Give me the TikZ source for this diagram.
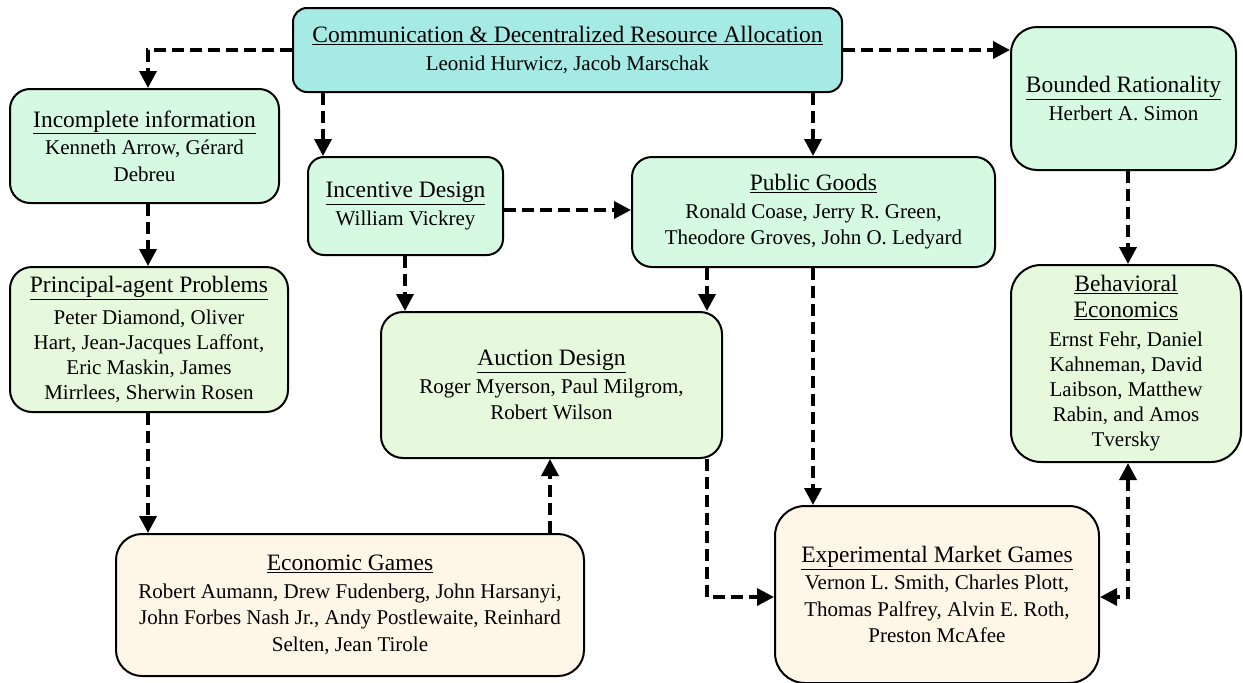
\documentclass[tikz,border=0pt]{standalone}
\usepackage{fontspec}
\setmainfont{Liberation Serif}
\usetikzlibrary{arrows.meta,calc}
\definecolor{cyanfill}{HTML}{A6EAE6}
\definecolor{mint}{HTML}{D5F9E1}
\definecolor{lgreen}{HTML}{E7F9DC}
\definecolor{cream}{HTML}{FEF7E8}
\newcommand{\ttlfont}{\fontsize{23.5}{28}\selectfont}
\newcommand{\ttl}[1]{{\ttlfont\underline{#1}}\\[1pt]}
\tikzset{
  box/.style={draw=black, line width=2pt, align=center, inner sep=0pt,
    font=\fontsize{21}{26.5}\selectfont},
  tight/.style={font=\fontsize{21}{25}\selectfont},
  arr/.style={-{Triangle[length=17pt,width=17pt]}, line width=3.6pt, dash pattern=on 12pt off 6pt},
  arr2/.style={{Triangle[length=17pt,width=17pt]}-{Triangle[length=17pt,width=17pt]}, line width=3.6pt, dash pattern=on 12pt off 6pt}
}
\begin{document}
\begin{tikzpicture}[x=1pt,y=-1pt]
\useasboundingbox (0,0) rectangle (1243,683);
\node[box, fill=cyanfill, rounded corners=14pt, minimum width=549pt, minimum height=84pt] (top) at (567.5,50)
  {\ttl{Communication \& Decentralized Resource Allocation}Leonid Hurwicz, Jacob Marschak};
\node[box, fill=mint, rounded corners=20pt, minimum width=269pt, minimum height=114pt] (inc) at (144.5,146)
  {\ttl{Incomplete information}Kenneth Arrow, Gérard\\Debreu};
\node[box, fill=mint, rounded corners=16pt, minimum width=195pt, minimum height=98pt] (incent) at (405.5,206)
  {\ttl{Incentive Design}William Vickrey};
\node[box, fill=mint, rounded corners=20pt, minimum width=363pt, minimum height=110pt] (pub) at (813.5,212)
  {\ttl{Public Goods}Ronald Coase, Jerry R. Green,\\Theodore Groves, John O. Ledyard};
\node[box, fill=mint, rounded corners=26pt, minimum width=225pt, minimum height=143pt] (bound) at (1123.5,98.5)
  {\ttl{Bounded Rationality}Herbert A. Simon};
\node[box, tight, fill=lgreen, rounded corners=22pt, minimum width=278pt, minimum height=145pt] (pa) at (149,339.5)
  {{\ttlfont\underline{Principal-agent Problems}}\\[7pt]Peter Diamond, Oliver\\Hart, Jean-Jacques Laffont,\\Eric Maskin, James\\Mirrlees, Sherwin Rosen};
\node[box, fill=lgreen, rounded corners=22pt, minimum width=341pt, minimum height=146pt] (auct) at (551.5,385)
  {\ttl{Auction Design}Roger Myerson, Paul Milgrom,\\Robert Wilson};
\node[box, tight, fill=lgreen, rounded corners=30pt, minimum width=230pt, minimum height=197pt] (behav) at (1126,363.5)
  {\ttl{Behavioral}{\ttlfont\underline{Economics}}\\[4pt]Ernst Fehr, Daniel\\Kahneman, David\\Laibson, Matthew\\Rabin, and Amos\\Tversky};
\node[box, fill=cream, rounded corners=26pt, minimum width=468pt, minimum height=142pt] (eg) at (350,605)
  {\ttl{Economic Games}Robert Aumann, Drew Fudenberg, John Harsanyi,\\John Forbes Nash Jr., Andy Postlewaite, Reinhard\\Selten, Jean Tirole};
\node[box, fill=cream, rounded corners=30pt, minimum width=324pt, minimum height=177pt] (exp) at (937,594.5)
  {\ttl{Experimental Market Games}Vernon L. Smith, Charles Plott,\\Thomas Palfrey, Alvin E. Roth,\\Preston McAfee};
% column / row guides
\coordinate (c1) at (148,0);
\coordinate (c2) at (323,0);
\coordinate (c3) at (813,0);
\coordinate (c4) at (405,0);
\coordinate (c5) at (707,0);
\coordinate (c6) at (550,0);
\coordinate (c7) at (1128,0);
\coordinate (r1) at (0,210);
\coordinate (r2) at (0,597);
% connectors
\draw[arr] (top.west) -| (inc.north -| c1);
\draw[arr] (top.east) -- (top.east -| bound.west);
\draw[arr] (top.south -| c2) -- (incent.north -| c2);
\draw[arr] (top.south -| c3) -- (pub.north -| c3);
\draw[arr] (inc.south -| c1) -- (pa.north -| c1);
\draw[arr] (incent.east |- r1) -- (pub.west |- r1);
\draw[arr] (incent.south -| c4) -- (auct.north -| c4);
\draw[arr] (pub.south -| c5) -- (auct.north -| c5);
\draw[arr] (pub.south -| c3) -- (exp.north -| c3);
\draw[arr] (bound.south -| c7) -- (behav.north -| c7);
\draw[arr] (pa.south -| c1) -- (eg.north -| c1);
\draw[arr] (eg.north -| c6) -- (auct.south -| c6);
\draw[arr] (auct.south -| c5) |- (exp.west |- r2);
\draw[arr2] (behav.south -| c7) |- (exp.east |- r2);
\end{tikzpicture}
\end{document}
